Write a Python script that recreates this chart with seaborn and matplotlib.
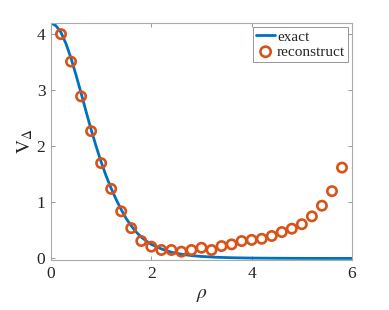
import numpy as np
import pandas as pd
import matplotlib
matplotlib.use("Agg")
import matplotlib.pyplot as plt
import seaborn as sns

# exact curve
rho_exact = [0.0, 0.1, 0.2, 0.3, 0.4, 0.5, 0.6, 0.7, 0.8, 0.9, 1.0, 1.1, 1.2, 1.3,
             1.4, 1.5, 1.6, 1.7, 1.8, 1.9, 2.0, 2.2, 2.4, 2.6, 2.8, 3.0, 3.3, 3.6,
             4.0, 4.5, 5.0, 5.5, 6.0]
v_exact = [4.20, 4.15, 4.03, 3.83, 3.57, 3.27, 2.95, 2.62, 2.30, 2.00, 1.72, 1.47,
           1.25, 1.05, 0.87, 0.71, 0.58, 0.47, 0.38, 0.31, 0.25, 0.17, 0.11, 0.075,
           0.05, 0.035, 0.02, 0.012, 0.006, 0.003, 0.001, 0.0, 0.0]

# reconstructed points
rho_rec = [0.2, 0.4, 0.6, 0.8, 1.0, 1.2, 1.4, 1.6, 1.8, 2.0, 2.2, 2.4, 2.6, 2.8,
           3.0, 3.2, 3.4, 3.6, 3.8, 4.0, 4.2, 4.4, 4.6, 4.8, 5.0, 5.2, 5.4, 5.6, 5.8]
v_rec = [4.00, 3.51, 2.89, 2.27, 1.70, 1.24, 0.84, 0.54, 0.31, 0.21, 0.15, 0.15,
         0.12, 0.15, 0.19, 0.15, 0.22, 0.25, 0.31, 0.33, 0.35, 0.40, 0.47, 0.53,
         0.61, 0.75, 0.94, 1.20, 1.62]

xticks = [0, 2, 4, 6]
yticks = [0, 1, 2, 3, 4]

sns.set_style("white")
plt.rcParams['font.family'] = ['Liberation Serif', 'DejaVu Serif']
plt.rcParams['mathtext.fontset'] = 'stix'

fig = plt.figure(figsize=(3.89, 3.10), dpi=100)
ax = fig.add_axes([0.131, 0.161, 0.774, 0.765])

blue = '#0072BD'
orange = '#D95319'

sns.lineplot(x=rho_exact, y=v_exact, ax=ax, color=blue, linewidth=2.0,
             label='exact', sort=False)
sns.scatterplot(x=rho_rec, y=v_rec, ax=ax, marker='o', s=45,
                facecolor='none', edgecolor=orange, linewidth=1.9,
                label='reconstruct', zorder=3)

ax.set_xlim(0, 6)
ax.set_ylim(-0.03, 4.2)
ax.set_xticks(xticks)
ax.set_yticks(yticks)
ax.set_xticklabels([str(t) for t in xticks])
ax.set_yticklabels([str(t) for t in yticks])
ax.tick_params(direction='in', length=3, width=0.6, color='#888888',
               labelsize=12.5, labelcolor='#262626', top=True, right=True,
               bottom=True, left=True, pad=4)
for s in ax.spines.values():
    s.set_color('#aaaaaa')
    s.set_linewidth(0.8)

ax.set_xlabel(r'$\rho$', fontsize=14, color='#262626')
ax.set_ylabel(r'$\mathrm{V}_{\Delta}$', fontsize=14, color='#262626', labelpad=1)

leg = ax.legend(loc='upper right', fontsize=11, frameon=True, fancybox=False,
                edgecolor='#888888', framealpha=1, handlelength=1.2,
                handletextpad=0.15, borderpad=0.2, labelspacing=0.1,
                borderaxespad=0.25, markerscale=1.1)
leg.get_frame().set_linewidth(0.6)

fig.savefig('out.png', dpi=100)
